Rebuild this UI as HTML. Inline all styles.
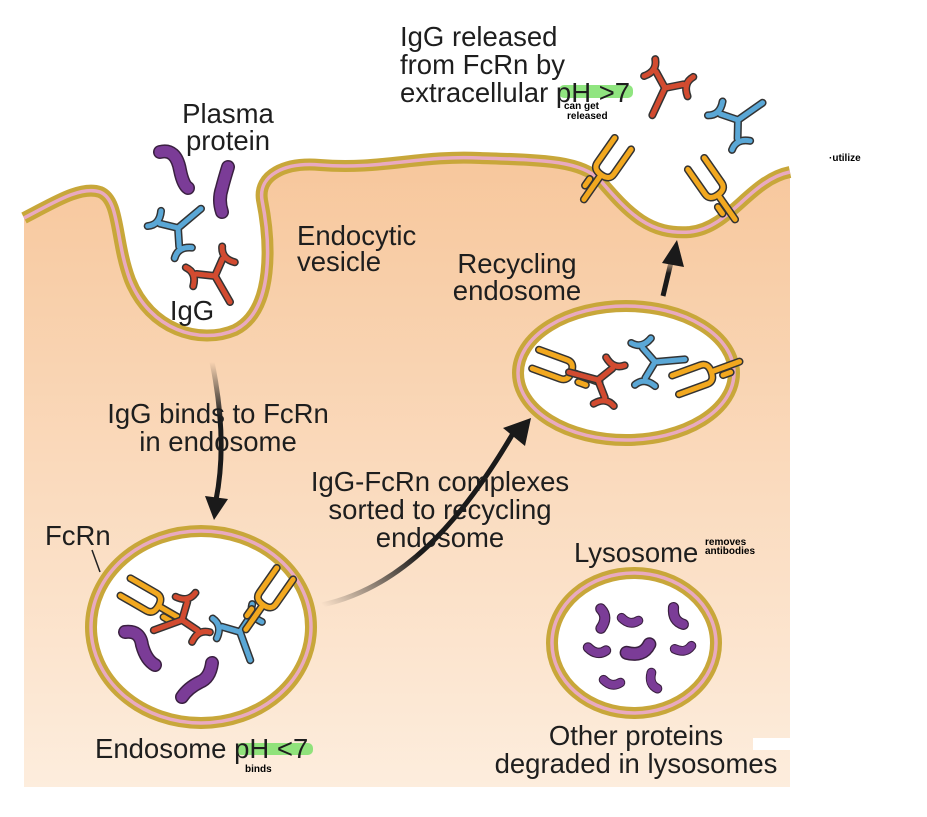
<!DOCTYPE html>
<html><head><meta charset="utf-8"><style>
html,body{margin:0;padding:0;background:#fff;width:927px;height:817px;overflow:hidden}
svg{display:block}
text{font-family:"Liberation Sans",Arial,sans-serif;fill:#1e1e1e}
.t{font-size:27.5px}
.h{font-family:"Liberation Sans",sans-serif;font-size:10px;font-weight:bold;fill:#000}
</style></head><body>
<svg width="927" height="817" viewBox="0 0 927 817" xmlns="http://www.w3.org/2000/svg">
<defs>
<linearGradient id="bg" x1="0" y1="0" x2="0" y2="1">
<stop offset="0" stop-color="#f7c79c"/><stop offset="1" stop-color="#fdeddd"/>
</linearGradient>
<linearGradient id="a1" x1="0" y1="0" x2="0" y2="1">
<stop offset="0" stop-color="#1a1a1a" stop-opacity="0"/><stop offset="0.4" stop-color="#1a1a1a"/><stop offset="1" stop-color="#1a1a1a"/>
</linearGradient>
<linearGradient id="a2" x1="0" y1="1" x2="1" y2="0">
<stop offset="0" stop-color="#1a1a1a" stop-opacity="0"/><stop offset="0.4" stop-color="#1a1a1a"/><stop offset="1" stop-color="#1a1a1a"/>
</linearGradient>
<g id="igg" fill="none" stroke-linecap="round" stroke-linejoin="round">
<path d="M0,30 L0,0 L-15,-11 M-21,-22 Q-14,-12 -24,-2 M0,0 L15,-11 M21,-22 Q14,-12 24,-2" stroke="#333" stroke-width="8"/>
<path d="M0,30 L0,0 L-15,-11 M-21,-22 Q-14,-12 -24,-2 M0,0 L15,-11 M21,-22 Q14,-12 24,-2" stroke="currentColor" stroke-width="5"/>
</g>
<g id="fcrn" fill="none" stroke-linecap="round" stroke-linejoin="round">
<path d="M0,42 L0,12 M-10,-26 L-10,4 Q-10,12 0,12 Q10,12 10,4 L10,-26 M-7,22 L-7,30" stroke="#333" stroke-width="8"/>
<path d="M0,42 L0,12 M-10,-26 L-10,4 Q-10,12 0,12 Q10,12 10,4 L10,-26 M-7,22 L-7,30" stroke="#f2a81f" stroke-width="5"/>
</g>
<g id="worm" fill="none" stroke-linecap="round">
<path d="M-12,-6 Q0,6 12,-2" stroke="#3a2040" stroke-width="14"/>
<path d="M-12,-6 Q0,6 12,-2" stroke="#7b3c97" stroke-width="11"/>
</g>
</defs>

<path d="M24,218 C50,205 80,185 100,192 C120,200 115,240 130,280 C150,330 200,345 235,330 C275,310 270,240 262,200 C258,175 285,162 320,165 C380,170 420,155 480,158 C540,160 580,160 600,180 C630,215 650,235 690,232 C730,228 750,180 790,172 L790,787 L24,787 Z" fill="url(#bg)"/>
<rect x="753" y="738" width="40" height="12" fill="#fff"/>
<path d="M24,218 C50,205 80,185 100,192 C120,200 115,240 130,280 C150,330 200,345 235,330 C275,310 270,240 262,200 C258,175 285,162 320,165 C380,170 420,155 480,158 C540,160 580,160 600,180 C630,215 650,235 690,232 C730,228 750,180 790,172" fill="none" stroke="#c8a73a" stroke-width="12"/>
<path d="M24,218 C50,205 80,185 100,192 C120,200 115,240 130,280 C150,330 200,345 235,330 C275,310 270,240 262,200 C258,175 285,162 320,165 C380,170 420,155 480,158 C540,160 580,160 600,180 C630,215 650,235 690,232 C730,228 750,180 790,172" fill="none" stroke="#e9aac0" stroke-width="3.5"/>

<g fill="#fff" stroke="#c8a73a" stroke-width="12">
<ellipse cx="201" cy="627" rx="110" ry="96"/>
<ellipse cx="626" cy="373" rx="108" ry="67"/>
<ellipse cx="634" cy="643" rx="82" ry="70"/>
</g>
<g fill="none" stroke="#e9aac0" stroke-width="3.5">
<ellipse cx="201" cy="627" rx="110" ry="96"/>
<ellipse cx="626" cy="373" rx="108" ry="67"/>
<ellipse cx="634" cy="643" rx="82" ry="70"/>
</g>

<path d="M212,362 Q228,440 216,500" fill="none" stroke="url(#a1)" stroke-width="5"/>
<path d="M205,496 L214,520 L228,499 Z" fill="#1a1a1a"/>
<path d="M322,605 C400,588 460,525 515,430" fill="none" stroke="url(#a2)" stroke-width="5"/>
<path d="M503,428 L531,418 L525,446 Z" fill="#1a1a1a"/>
<path d="M663,296 L672,258" fill="none" stroke="url(#a1)" stroke-width="5"/>
<path d="M662,263 L677,240 L684,267 Z" fill="#1a1a1a"/>

<g color="#5aa7d6"><use href="#igg" transform="translate(178,228) rotate(-130)"/></g>
<g color="#d24b30"><use href="#igg" transform="translate(215,276) rotate(-30)"/></g>
<g fill="none" stroke-linecap="round">
<path d="M160,152 Q176,148 180,170 Q183,185 188,188" stroke="#3a2040" stroke-width="14"/>
<path d="M160,152 Q176,148 180,170 Q183,185 188,188" stroke="#7b3c97" stroke-width="11"/>
<path d="M228,167 Q224,180 222,188 Q218,200 222,212" stroke="#3a2040" stroke-width="14"/>
<path d="M228,167 Q224,180 222,188 Q218,200 222,212" stroke="#7b3c97" stroke-width="11"/>
</g>

<g color="#d24b30"><use href="#igg" transform="translate(665,88) rotate(25)"/></g>
<g color="#5aa7d6"><use href="#igg" transform="translate(738,120) rotate(-125)"/></g>
<use href="#fcrn" transform="translate(608,165) rotate(35)"/>
<use href="#fcrn" transform="translate(711,185) rotate(-35)"/>

<use href="#fcrn" transform="translate(148,600) rotate(-60)"/>
<g color="#d24b30"><use href="#igg" transform="translate(182,620) rotate(70)"/></g>
<g color="#5aa7d6"><use href="#igg" transform="translate(240,632) rotate(-20)"/></g>
<use href="#fcrn" transform="translate(270,595) rotate(35)"/>
<g fill="none" stroke-linecap="round">
<path d="M125,632 Q140,630 142,645 Q146,660 155,665" stroke="#3a2040" stroke-width="14"/>
<path d="M125,632 Q140,630 142,645 Q146,660 155,665" stroke="#7b3c97" stroke-width="11"/>
<path d="M212,663 Q210,678 200,682 Q188,688 182,697" stroke="#3a2040" stroke-width="14"/>
<path d="M212,663 Q210,678 200,682 Q188,688 182,697" stroke="#7b3c97" stroke-width="11"/>
</g>

<use href="#fcrn" transform="translate(560,368) rotate(-70)"/>
<g color="#d24b30"><use href="#igg" transform="translate(598,380) rotate(105)"/></g>
<g color="#5aa7d6"><use href="#igg" transform="translate(655,362) rotate(-95)"/></g>
<use href="#fcrn" transform="translate(700,376) rotate(-110)"/>

<use href="#worm" transform="translate(604,618) rotate(-100) scale(.8)"/>
<use href="#worm" transform="translate(630,622) scale(.7)"/>
<use href="#worm" transform="translate(676,618) rotate(50) scale(.8)"/>
<use href="#worm" transform="translate(597,652) scale(.75)"/>
<use href="#worm" transform="translate(640,652) rotate(-30) scale(1.0)"/>
<use href="#worm" transform="translate(684,650) rotate(-20) scale(.7)"/>
<use href="#worm" transform="translate(612,684) scale(.7)"/>
<use href="#worm" transform="translate(652,682) rotate(60) scale(.7)"/>

<rect x="559" y="85" width="74" height="13" rx="5" fill="#7de06a" opacity="0.85"/>
<rect x="236" y="743" width="77" height="12" rx="5" fill="#7de06a" opacity="0.85"/>

<g>
<text x="400" y="46" class="t">IgG released</text>
<text x="400" y="74" class="t">from FcRn by</text>
<text x="400" y="102" class="t">extracellular pH &gt;7</text>
<text x="228" y="123" text-anchor="middle" class="t">Plasma</text>
<text x="228" y="150" text-anchor="middle" class="t">protein</text>
<text x="297" y="245" class="t">Endocytic</text>
<text x="297" y="271" class="t">vesicle</text>
<text x="517" y="273" text-anchor="middle" class="t">Recycling</text>
<text x="517" y="300" text-anchor="middle" class="t">endosome</text>
<text x="192" y="320" text-anchor="middle" class="t">IgG</text>
<text x="218" y="423" text-anchor="middle" class="t">IgG binds to FcRn</text>
<text x="218" y="451" text-anchor="middle" class="t">in endosome</text>
<text x="440" y="491" text-anchor="middle" class="t">IgG-FcRn complexes</text>
<text x="440" y="519" text-anchor="middle" class="t">sorted to recycling</text>
<text x="440" y="547" text-anchor="middle" class="t">endosome</text>
<text x="45" y="545" class="t">FcRn</text>
<text x="574" y="562" class="t">Lysosome</text>
<text x="95" y="758" class="t">Endosome pH &lt;7</text>
<text x="636" y="745" text-anchor="middle" class="t">Other proteins</text>
<text x="636" y="773" text-anchor="middle" class="t">degraded in lysosomes</text>
</g>
<path d="M92,550 L100,572" stroke="#222" stroke-width="1.5"/>

<text x="564" y="109" class="h">can get</text>
<text x="567" y="119" class="h">released</text>
<text x="245" y="772" class="h">binds</text>
<text x="705" y="545" class="h">removes</text>
<text x="705" y="554" class="h">antibodies</text>
<text x="829" y="161" class="h">·utilize</text>
</svg>
</body></html>
